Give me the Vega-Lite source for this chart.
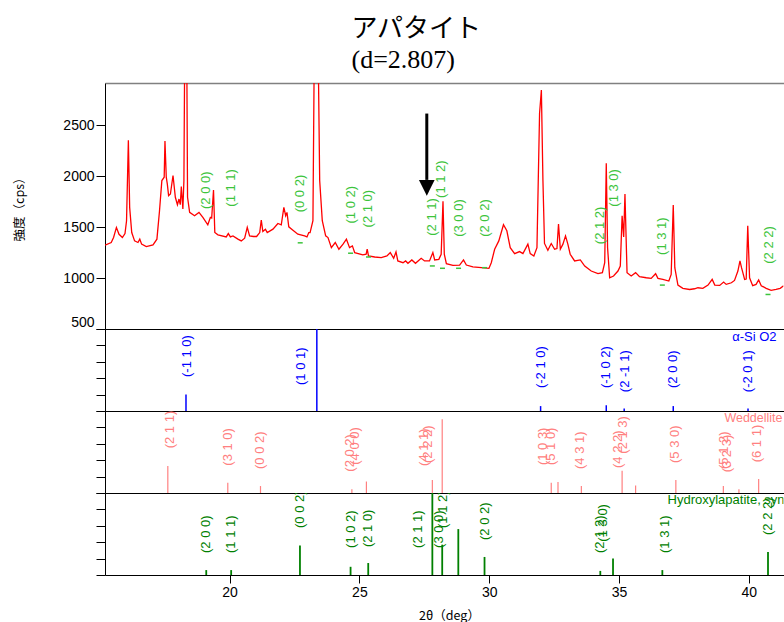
{
  "$schema": "https://vega.github.io/schema/vega-lite/v6.json",
  "background": "white",
  "autosize": {"type": "pad"},
  "padding": {"left": 13, "top": 16, "right": 0, "bottom": 0},
  "spacing": 0,
  "bounds": "flush",
  "config": {
    "view": {"stroke": null},
    "concat": {"spacing": 0},
    "axis": {"grid": false, "domainColor": "black", "tickColor": "black", "labelColor": "black", "labelFont": "Liberation Sans", "labelFontSize": 14, "titleFont": "Noto Sans CJK JP", "titleFontSize": 12.5, "titleFontWeight": "normal", "titleColor": "black", "domainWidth": 1, "tickWidth": 1}
  },
  "datasets": {
    "xrd": [
      {"t":15.20,"i":1323},{"t":15.44,"i":1349},{"t":15.53,"i":1398},{"t":15.64,"i":1497},{"t":15.74,"i":1430},{"t":15.87,"i":1398},{"t":15.97,"i":1437},{"t":16.03,"i":1563},{"t":16.10,"i":2352},{"t":16.15,"i":1694},{"t":16.23,"i":1447},{"t":16.34,"i":1365},{"t":16.47,"i":1349},{"t":16.54,"i":1382},{"t":16.61,"i":1333},{"t":16.79,"i":1309},{"t":17.05,"i":1326},{"t":17.20,"i":1382},{"t":17.30,"i":1661},{"t":17.39,"i":1957},{"t":17.48,"i":1990},{"t":17.51,"i":2345},{"t":17.56,"i":1990},{"t":17.60,"i":1924},{"t":17.65,"i":1809},{"t":17.72,"i":1826},{"t":17.82,"i":2007},{"t":17.91,"i":1793},{"t":17.99,"i":1720},{"t":18.05,"i":1776},{"t":18.10,"i":1720},{"t":18.14,"i":1898},{"t":18.20,"i":1678},{"t":18.24,"i":1957},{"t":18.27,"i":3200},{"t":18.31,"i":4500},{"t":18.35,"i":3200},{"t":18.38,"i":1793},{"t":18.46,"i":1645},{"t":18.65,"i":1612},{"t":18.82,"i":1645},{"t":18.97,"i":1596},{"t":19.16,"i":1523},{"t":19.26,"i":1596},{"t":19.31,"i":1590},{"t":19.38,"i":1865},{"t":19.43,"i":1447},{"t":19.55,"i":1424},{"t":19.87,"i":1404},{"t":19.95,"i":1437},{"t":20.03,"i":1404},{"t":20.13,"i":1414},{"t":20.32,"i":1382},{"t":20.45,"i":1365},{"t":20.58,"i":1391},{"t":20.68,"i":1497},{"t":20.77,"i":1414},{"t":20.92,"i":1408},{"t":21.04,"i":1408},{"t":21.16,"i":1447},{"t":21.22,"i":1570},{"t":21.28,"i":1457},{"t":21.38,"i":1480},{"t":21.45,"i":1447},{"t":21.67,"i":1480},{"t":21.86,"i":1536},{"t":21.99,"i":1523},{"t":22.09,"i":1694},{"t":22.16,"i":1612},{"t":22.21,"i":1645},{"t":22.28,"i":1503},{"t":22.44,"i":1470},{"t":22.63,"i":1431},{"t":22.89,"i":1414},{"t":22.98,"i":1404},{"t":23.05,"i":1447},{"t":23.10,"i":1447},{"t":23.21,"i":1563},{"t":23.27,"i":3500},{"t":23.33,"i":5000},{"t":23.40,"i":3500},{"t":23.47,"i":1957},{"t":23.57,"i":1563},{"t":23.70,"i":1415},{"t":23.79,"i":1398},{"t":23.92,"i":1299},{"t":24.07,"i":1349},{"t":24.21,"i":1283},{"t":24.37,"i":1333},{"t":24.50,"i":1382},{"t":24.62,"i":1299},{"t":24.73,"i":1316},{"t":24.82,"i":1250},{"t":25.13,"i":1227},{"t":25.26,"i":1234},{"t":25.30,"i":1283},{"t":25.35,"i":1217},{"t":25.59,"i":1207},{"t":25.84,"i":1201},{"t":26.06,"i":1217},{"t":26.19,"i":1250},{"t":26.32,"i":1194},{"t":26.41,"i":1257},{"t":26.48,"i":1168},{"t":26.68,"i":1151},{"t":26.78,"i":1168},{"t":26.87,"i":1145},{"t":27.02,"i":1178},{"t":27.16,"i":1145},{"t":27.38,"i":1194},{"t":27.51,"i":1168},{"t":27.70,"i":1168},{"t":27.83,"i":1250},{"t":27.90,"i":1178},{"t":28.06,"i":1184},{"t":28.15,"i":1234},{"t":28.22,"i":1753},{"t":28.27,"i":1234},{"t":28.35,"i":1141},{"t":28.60,"i":1125},{"t":28.86,"i":1128},{"t":29.01,"i":1178},{"t":29.12,"i":1128},{"t":29.37,"i":1109},{"t":29.70,"i":1102},{"t":29.99,"i":1095},{"t":30.08,"i":1151},{"t":30.21,"i":1283},{"t":30.37,"i":1365},{"t":30.55,"i":1523},{"t":30.68,"i":1464},{"t":30.81,"i":1299},{"t":30.98,"i":1240},{"t":31.17,"i":1260},{"t":31.30,"i":1240},{"t":31.49,"i":1333},{"t":31.58,"i":1240},{"t":31.72,"i":1217},{"t":31.84,"i":1299},{"t":31.94,"i":2615},{"t":32.01,"i":2845},{"t":32.07,"i":1957},{"t":32.13,"i":1340},{"t":32.26,"i":1273},{"t":32.39,"i":1339},{"t":32.52,"i":1283},{"t":32.61,"i":1290},{"t":32.67,"i":1530},{"t":32.74,"i":1283},{"t":32.84,"i":1333},{"t":32.94,"i":1414},{"t":33.03,"i":1333},{"t":33.12,"i":1234},{"t":33.29,"i":1168},{"t":33.51,"i":1178},{"t":33.68,"i":1118},{"t":33.93,"i":1069},{"t":34.19,"i":1043},{"t":34.36,"i":1053},{"t":34.45,"i":1151},{"t":34.51,"i":2128},{"t":34.56,"i":1299},{"t":34.64,"i":1003},{"t":34.79,"i":1020},{"t":34.96,"i":1069},{"t":35.05,"i":1118},{"t":35.12,"i":1612},{"t":35.18,"i":1404},{"t":35.23,"i":1826},{"t":35.31,"i":1053},{"t":35.47,"i":1020},{"t":35.64,"i":1053},{"t":35.79,"i":1013},{"t":36.05,"i":1003},{"t":36.24,"i":997},{"t":36.41,"i":1043},{"t":36.50,"i":997},{"t":36.69,"i":987},{"t":36.92,"i":971},{"t":37.01,"i":1036},{"t":37.09,"i":1717},{"t":37.15,"i":1102},{"t":37.27,"i":931},{"t":37.46,"i":899},{"t":37.72,"i":888},{"t":37.91,"i":895},{"t":38.04,"i":905},{"t":38.23,"i":899},{"t":38.43,"i":931},{"t":38.59,"i":987},{"t":38.69,"i":931},{"t":38.88,"i":928},{"t":39.03,"i":961},{"t":39.13,"i":938},{"t":39.33,"i":954},{"t":39.45,"i":977},{"t":39.58,"i":1069},{"t":39.66,"i":1168},{"t":39.72,"i":1102},{"t":39.84,"i":987},{"t":39.90,"i":990},{"t":39.96,"i":1513},{"t":40.03,"i":1003},{"t":40.15,"i":925},{"t":40.28,"i":938},{"t":40.38,"i":981},{"t":40.48,"i":925},{"t":40.67,"i":899},{"t":40.86,"i":879},{"t":41.05,"i":888},{"t":41.21,"i":899},{"t":41.34,"i":925}
    ],
    "toplabels": [
      {"hkl":"(2 0 0)","t":19.10,"i":1678},{"hkl":"(1 1 1)","t":20.07,"i":1701},{"hkl":"(0 0 2)","t":22.72,"i":1645},{"hkl":"(1 0 2)","t":24.68,"i":1536},{"hkl":"(2 1 0)","t":25.35,"i":1497},{"hkl":"(2 1 1)","t":27.81,"i":1415},{"hkl":"(1 1 2)","t":28.16,"i":1787},{"hkl":"(3 0 0)","t":28.84,"i":1405},{"hkl":"(2 0 2)","t":29.85,"i":1405},{"hkl":"(2 1 2)","t":34.25,"i":1333},{"hkl":"(1 3 0)","t":34.79,"i":1701},{"hkl":"(1 3 1)","t":36.67,"i":1227},{"hkl":"(2 2 2)","t":40.76,"i":1141}
    ],
    "dashes": [
      {"t":22.72,"i":1346},{"t":24.66,"i":1244},{"t":25.35,"i":1207},{"t":27.81,"i":1119},{"t":28.20,"i":1096},{"t":28.82,"i":1096},{"t":29.82,"i":1102},{"t":36.67,"i":931},{"t":40.74,"i":839}
    ],
    "arrow": [{"t":27.596,"i":2615,"i2":1964}],
    "arrowhead": [{"t":27.596,"i":1886}],
    "sticks": [
      {"phase":"SiO2","t":18.32,"h":20},{"phase":"SiO2","t":23.36,"h":100},{"phase":"SiO2","t":31.98,"h":6},{"phase":"SiO2","t":34.51,"h":7},{"phase":"SiO2","t":35.20,"h":3},{"phase":"SiO2","t":37.09,"h":6},{"phase":"SiO2","t":39.97,"h":3},
      {"phase":"Wedd","t":17.62,"h":33},{"phase":"Wedd","t":19.93,"h":12.6},{"phase":"Wedd","t":21.19,"h":8.5},{"phase":"Wedd","t":24.71,"h":4.5},{"phase":"Wedd","t":25.27,"h":14},{"phase":"Wedd","t":27.81,"h":16},{"phase":"Wedd","t":28.19,"h":90},{"phase":"Wedd","t":32.39,"h":12.6},{"phase":"Wedd","t":32.65,"h":13.4},{"phase":"Wedd","t":33.55,"h":8.5},{"phase":"Wedd","t":35.12,"h":27},{"phase":"Wedd","t":35.64,"h":9},{"phase":"Wedd","t":37.19,"h":16},{"phase":"Wedd","t":39.02,"h":8.5},{"phase":"Wedd","t":39.62,"h":4.5},{"phase":"Wedd","t":40.38,"h":17},
      {"phase":"HA","t":19.10,"h":6},{"phase":"HA","t":20.06,"h":6},{"phase":"HA","t":22.71,"h":36},{"phase":"HA","t":24.66,"h":10},{"phase":"HA","t":25.34,"h":14.6},{"phase":"HA","t":27.81,"h":100},{"phase":"HA","t":28.19,"h":37},{"phase":"HA","t":28.81,"h":56},{"phase":"HA","t":29.82,"h":22},{"phase":"HA","t":34.28,"h":5},{"phase":"HA","t":34.77,"h":20},{"phase":"HA","t":36.67,"h":6},{"phase":"HA","t":40.74,"h":28}
    ],
    "labels": [
      {"phase":"SiO2","hkl":"(-1 1 0)","t":18.34,"h":41.5},{"phase":"SiO2","hkl":"(1 0 1)","t":22.76,"h":31.7},{"phase":"SiO2","hkl":"(-2 1 0)","t":31.98,"h":28},{"phase":"SiO2","hkl":"(-1 0 2)","t":34.51,"h":28},{"phase":"SiO2","hkl":"(2 -1 1)","t":35.22,"h":23},{"phase":"SiO2","hkl":"(2 0 0)","t":37.08,"h":28},{"phase":"SiO2","hkl":"(-2 0 1)","t":39.97,"h":23},
      {"phase":"Wedd","hkl":"(2 1 1)","t":17.69,"h":54.5},{"phase":"Wedd","hkl":"(3 1 0)","t":19.93,"h":33.3},{"phase":"Wedd","hkl":"(0 0 2)","t":21.19,"h":29.3},{"phase":"Wedd","hkl":"(2 0 2)","t":24.62,"h":26},{"phase":"Wedd","hkl":"(4 0 0)","t":24.82,"h":34.5},{"phase":"Wedd","hkl":"(4 1 1)","t":27.50,"h":33},{"phase":"Wedd","hkl":"(2 2 2)","t":27.66,"h":36.6},{"phase":"Wedd","hkl":"(1 0 3)","t":32.06,"h":34},{"phase":"Wedd","hkl":"(5 1 0)","t":32.39,"h":34},{"phase":"Wedd","hkl":"(4 3 1)","t":33.51,"h":29.3},{"phase":"Wedd","hkl":"(2 1 3)","t":35.17,"h":48},{"phase":"Wedd","hkl":"(4 2 2)","t":34.98,"h":30.5},{"phase":"Wedd","hkl":"(5 3 0)","t":37.14,"h":36.6},{"phase":"Wedd","hkl":"(5 1 2)","t":39.03,"h":29.3},{"phase":"Wedd","hkl":"(3 2 3)","t":39.15,"h":25.2},{"phase":"Wedd","hkl":"(6 1 1)","t":40.30,"h":37.4},
      {"phase":"HA","hkl":"(2 0 0)","t":19.10,"h":26.8},{"phase":"HA","hkl":"(1 1 1)","t":20.06,"h":26.8},{"phase":"HA","hkl":"(0 0 2)","t":22.71,"h":57.3},{"phase":"HA","hkl":"(1 0 2)","t":24.66,"h":33},{"phase":"HA","hkl":"(2 1 0)","t":25.35,"h":34},{"phase":"HA","hkl":"(2 1 1)","t":27.24,"h":33},{"phase":"HA","hkl":"(3 0 0)","t":28.05,"h":33},{"phase":"HA","hkl":"(1 1 2)","t":28.22,"h":57.3},{"phase":"HA","hkl":"(2 0 2)","t":29.82,"h":42.7},{"phase":"HA","hkl":"(2 1 2)","t":34.25,"h":26.8},{"phase":"HA","hkl":"(1 3 0)","t":34.40,"h":40.7},{"phase":"HA","hkl":"(1 3 1)","t":36.76,"h":26.8},{"phase":"HA","hkl":"(2 2 2)","t":40.74,"h":48.8}
    ],
    "names": [
      {"phase":"SiO2","label":"α-Si O2","t":39.36,"h":100},{"phase":"Wedd","label":"Weddellite","t":39.06,"h":100},{"phase":"HA","label":"Hydroxylapatite, syn","t":36.87,"h":100}
    ]
  },
  "vconcat": [
    {
      "width": 678.5,
      "height": 246,
      "title": {"text": ["アパタイト", "(d=2.807)"], "anchor": "start", "frame": "group", "dx": 246.5, "offset": 10, "font": "Liberation Serif, Noto Sans CJK JP", "fontSize": 26, "fontWeight": "normal", "lineHeight": 31, "color": "black"},
      "resolve": {"axis": {"x": "independent"}},
      "layer": [
        {
          "data": {"name": "xrd"},
          "mark": {"type": "line", "color": "#ff0000", "strokeWidth": 1.3, "clip": true},
          "encoding": {
            "x": {"field": "t", "type": "quantitative", "scale": {"domain": [15.2, 41.337], "nice": false, "zero": false}, "axis": {"orient": "bottom", "labels": false, "ticks": false, "title": null}},
            "y": {"field": "i", "type": "quantitative", "scale": {"domain": [500, 2915], "nice": false, "zero": false}, "axis": {"values": [500, 1000, 1500, 2000, 2500], "format": "d", "title": "強度（cps）", "tickSize": 9, "labelPadding": 2, "labelFlush": true, "titlePadding": 36}}
          }
        },
        {
          "data": {"name": "toplabels"},
          "mark": {"type": "text", "angle": 270, "align": "left", "baseline": "middle", "font": "Liberation Sans", "fontSize": 13, "color": "#3cc43c", "clip": true},
          "encoding": {
            "x": {"field": "t", "type": "quantitative", "axis": {"orient": "top", "labels": false, "ticks": false, "title": null, "domainColor": "#808080", "domainWidth": 1.5}},
            "y": {"field": "i", "type": "quantitative"},
            "text": {"field": "hkl"}
          }
        },
        {
          "data": {"name": "dashes"},
          "mark": {"type": "tick", "orient": "horizontal", "size": 5, "thickness": 1.5, "color": "#3cc43c", "opacity": 1},
          "encoding": {
            "x": {"field": "t", "type": "quantitative", "axis": null},
            "y": {"field": "i", "type": "quantitative"}
          }
        },
        {
          "data": {"name": "arrow"},
          "mark": {"type": "rule", "color": "black", "strokeWidth": 3},
          "encoding": {
            "x": {"field": "t", "type": "quantitative", "axis": null},
            "y": {"field": "i", "type": "quantitative"},
            "y2": {"field": "i2"}
          }
        },
        {
          "data": {"name": "arrowhead"},
          "mark": {"type": "point", "shape": "M-1,-1L1,-1L0,1Z", "size": 246, "filled": true, "color": "black", "opacity": 1},
          "encoding": {
            "x": {"field": "t", "type": "quantitative", "axis": null},
            "y": {"field": "i", "type": "quantitative"}
          }
        }
      ]
    },
    {
      "width": 678.5,
      "height": 82,
      "encoding": {
        "x": {"field": "t", "type": "quantitative", "scale": {"domain": [15.2, 41.337], "nice": false, "zero": false}, "axis": {"labels": false, "ticks": false, "title": null}},
        "y": {"field": "h", "type": "quantitative", "scale": {"domain": [0, 100], "nice": false}, "axis": {"values": [0, 20, 40, 60, 80, 100], "labels": false, "tickSize": 9, "title": null}}
      },
      "layer": [
        {"data": {"name": "sticks"}, "transform": [{"filter": "datum.phase === 'SiO2'"}], "mark": {"type": "rule", "color": "#0000ff", "strokeWidth": 1.5}, "encoding": {"y2": {"datum": 0}}},
        {"data": {"name": "labels"}, "transform": [{"filter": "datum.phase === 'SiO2'"}], "mark": {"type": "text", "angle": 270, "align": "left", "baseline": "middle", "font": "Liberation Sans", "fontSize": 13, "color": "#0000ff", "clip": true}, "encoding": {"text": {"field": "hkl"}}},
        {"data": {"name": "names"}, "transform": [{"filter": "datum.phase === 'SiO2'"}], "mark": {"type": "text", "align": "left", "baseline": "top", "dy": 2, "font": "Liberation Sans", "fontSize": 13, "color": "#0000ff", "clip": true}, "encoding": {"text": {"field": "label"}}}
      ]
    },
    {
      "width": 678.5,
      "height": 82,
      "encoding": {
        "x": {"field": "t", "type": "quantitative", "scale": {"domain": [15.2, 41.337], "nice": false, "zero": false}, "axis": {"labels": false, "ticks": false, "title": null}},
        "y": {"field": "h", "type": "quantitative", "scale": {"domain": [0, 100], "nice": false}, "axis": {"values": [0, 20, 40, 60, 80, 100], "labels": false, "tickSize": 9, "title": null}}
      },
      "layer": [
        {"data": {"name": "sticks"}, "transform": [{"filter": "datum.phase === 'Wedd'"}], "mark": {"type": "rule", "color": "#ff8080", "strokeWidth": 1.2}, "encoding": {"y2": {"datum": 0}}},
        {"data": {"name": "labels"}, "transform": [{"filter": "datum.phase === 'Wedd'"}], "mark": {"type": "text", "angle": 270, "align": "left", "baseline": "middle", "font": "Liberation Sans", "fontSize": 13, "color": "#ff8080", "clip": true}, "encoding": {"text": {"field": "hkl"}}},
        {"data": {"name": "names"}, "transform": [{"filter": "datum.phase === 'Wedd'"}], "mark": {"type": "text", "align": "left", "baseline": "top", "dy": 1, "font": "Liberation Sans", "fontSize": 12.5, "color": "#ff8080", "clip": true}, "encoding": {"text": {"field": "label"}}}
      ]
    },
    {
      "width": 678.5,
      "height": 82,
      "encoding": {
        "x": {"field": "t", "type": "quantitative", "scale": {"domain": [15.2, 41.337], "nice": false, "zero": false}, "axis": {"values": [20, 25, 30, 35, 40], "tickSize": 8, "labelPadding": 2, "title": "2θ（deg）", "titlePadding": 10, "titleX": 344}},
        "y": {"field": "h", "type": "quantitative", "scale": {"domain": [0, 100], "nice": false}, "axis": {"values": [0, 20, 40, 60, 80, 100], "labels": false, "tickSize": 9, "title": null}}
      },
      "layer": [
        {"data": {"name": "sticks"}, "transform": [{"filter": "datum.phase === 'HA'"}], "mark": {"type": "rule", "color": "#008000", "strokeWidth": 1.8}, "encoding": {"y2": {"datum": 0}}},
        {"data": {"name": "labels"}, "transform": [{"filter": "datum.phase === 'HA'"}], "mark": {"type": "text", "angle": 270, "align": "left", "baseline": "middle", "font": "Liberation Sans", "fontSize": 13, "color": "#008000", "clip": true}, "encoding": {"text": {"field": "hkl"}}},
        {"data": {"name": "names"}, "transform": [{"filter": "datum.phase === 'HA'"}], "mark": {"type": "text", "align": "left", "baseline": "top", "dy": 1, "font": "Liberation Sans", "fontSize": 13, "color": "#008000", "clip": true}, "encoding": {"text": {"field": "label"}}}
      ]
    }
  ]
}
